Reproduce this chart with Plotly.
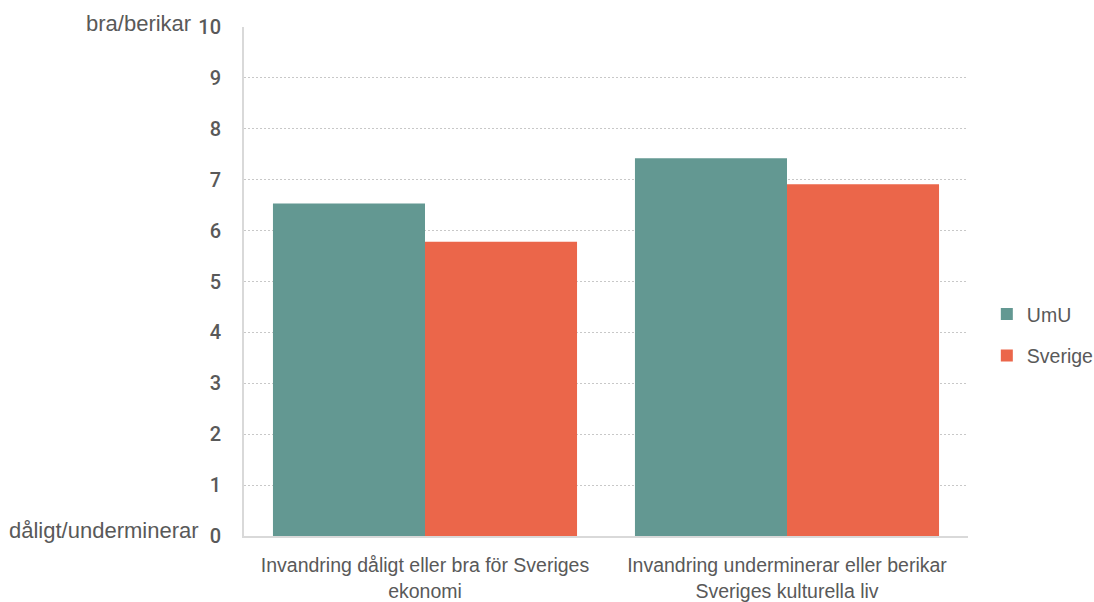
import plotly.graph_objects as go

categories = ["Invandring dåligt eller bra för Sveriges<br>ekonomi",
              "Invandring underminerar eller berikar<br>Sveriges kulturella liv"]
umu_values = [6.53, 7.42]
sverige_values = [5.78, 6.91]
y_ticks = [0, 1, 2, 3, 4, 5, 6, 7, 8, 9, 10]

teal = "#639892"
orange = "#EB664A"
gray_text = "#595959"

fig = go.Figure()
fig.add_trace(go.Bar(x=categories, y=umu_values, name="UmU", legendgroup="umu",
                     marker=dict(color=teal, line=dict(width=0))))
fig.add_trace(go.Bar(x=categories, y=sverige_values, name="Sverige", legendgroup="sverige",
                     marker=dict(color=orange, line=dict(width=0))))

fig.update_layout(
    width=1094, height=602,
    margin=dict(l=244, r=126, t=27, b=66, autoexpand=False),
    paper_bgcolor="white", plot_bgcolor="white",
    barmode="group", bargap=0.16, bargroupgap=0,
    legend=dict(x=1.026, y=0.395, xanchor="left", yanchor="middle",
                font=dict(family="Liberation Sans, Arial", size=19.5, color=gray_text),
                tracegroupgap=13, itemwidth=30),
    showlegend=True,
)
fig.update_yaxes(
    range=[0, 10], tickvals=y_ticks, automargin=False,
    showgrid=True, gridcolor="#c8c8c8", griddash="2px,2px", gridwidth=1,
    showline=True, linecolor="#d9d9d9", linewidth=2,
    zeroline=False,
    ticks="outside", ticklen=0, ticklabelstandoff=17,
    tickfont=dict(family="Roboto", size=20, color=gray_text, weight=500),
)
fig.update_xaxes(
    showline=True, linecolor="#d9d9d9", linewidth=2, automargin=False,
    ticks="outside", ticklen=0, ticklabelstandoff=11,
    tickfont=dict(family="Liberation Sans, Arial", size=19.5, color=gray_text),
)
fig.add_annotation(text="bra/berikar", xref="paper", yref="y", x=0, y=10,
                   xanchor="right", yanchor="middle", xshift=-51, yshift=4, showarrow=False,
                   font=dict(family="Liberation Sans, Arial", size=22, color=gray_text))
fig.add_annotation(text="dåligt/underminerar", xref="paper", yref="y", x=0, y=0,
                   xanchor="right", yanchor="middle", xshift=-43, yshift=6, showarrow=False,
                   font=dict(family="Liberation Sans, Arial", size=22, color=gray_text))

fig.write_html("out.html", config={"displayModeBar": False},
               post_script="document.body.style.margin='0';document.body.style.overflow='hidden';")
